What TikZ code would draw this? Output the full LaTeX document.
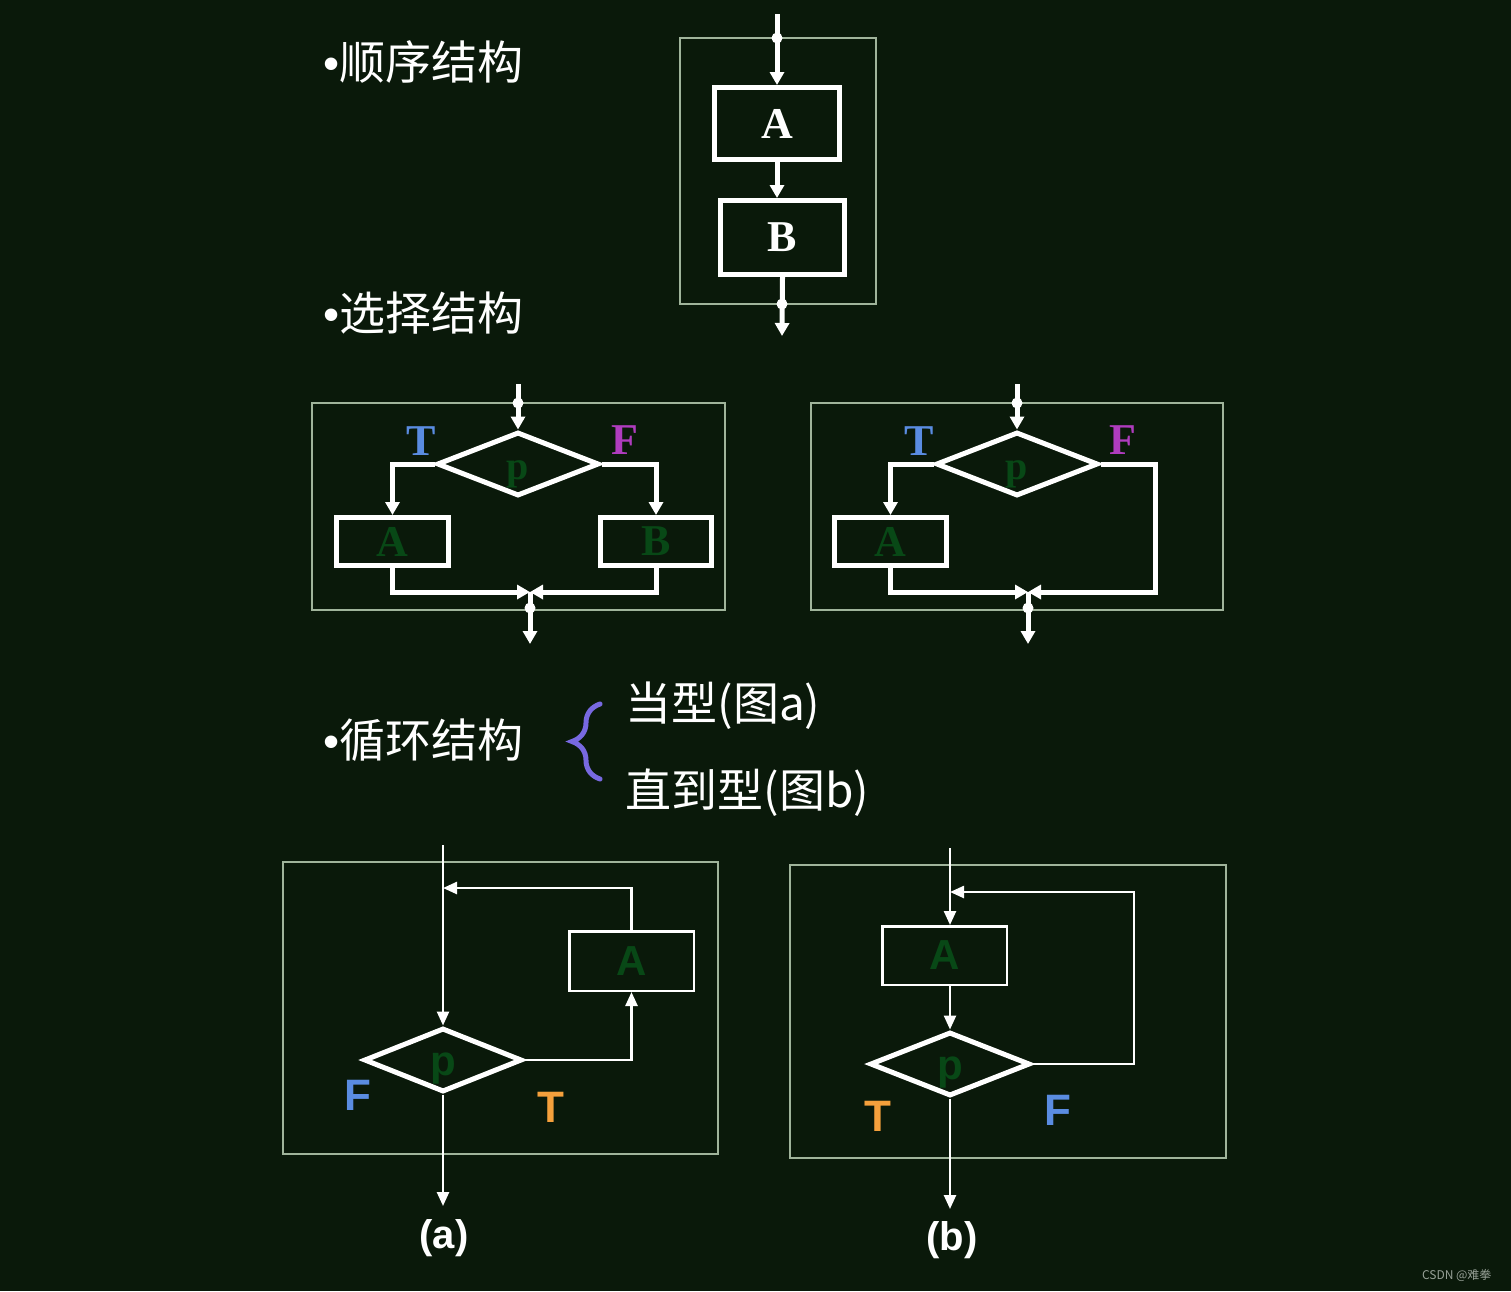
\documentclass[tikz,border=0pt]{standalone}
\usepackage{fontspec}
\setmainfont{Liberation Serif}
\setsansfont{Liberation Sans}
\newfontfamily\cjk{Noto Sans CJK SC}
\usetikzlibrary{arrows.meta,shapes.geometric,decorations.pathreplacing}
\definecolor{bg}{RGB}{10,25,10}
\definecolor{framec}{RGB}{160,180,155}
\definecolor{lbl}{RGB}{8,72,22}
\definecolor{tblue}{RGB}{90,140,225}
\definecolor{fpurple}{RGB}{175,60,190}
\definecolor{torange}{RGB}{245,160,60}
\definecolor{bracec}{RGB}{120,105,225}
\definecolor{wmark}{RGB}{150,160,150}
\newcommand{\bul}{{\sffamily •}}
\begin{document}
\begin{tikzpicture}[x=1pt,y=-1pt,
  frame/.style={draw=framec, line width=1.8pt},
  thickbox/.style={rectangle, draw=white, line width=5pt, inner sep=0pt,
    font=\fontsize{44}{44}\selectfont\bfseries},
  thinbox/.style={rectangle, draw=white, line width=2.5pt, inner sep=0pt, text=lbl,
    font=\sffamily\bfseries\fontsize{42}{42}\selectfont},
  dia/.style={diamond, draw=white, line width=5pt, inner sep=0pt, text=lbl,
    text depth=0pt, text height=30pt},
  flow/.style={draw=white, line width=5pt, -{Triangle[length=13pt,width=14pt]}},
  thinflow/.style={draw=white, line width=2.5pt, -{Triangle[length=14pt,width=12pt]}},
  dot/.style={circle, fill=white, minimum size=11pt, inner sep=0pt},
  serlab/.style={font=\fontsize{44}{44}\selectfont\bfseries},
  sanslab/.style={font=\sffamily\bfseries\fontsize{44}{44}\selectfont},
  heading/.style={anchor=west, text=white, font=\cjk\fontsize{46}{46}\selectfont}
]
\fill[bg] (0,0) rectangle (1511,1291);
\useasboundingbox (0,0) rectangle (1511,1291);

% ---------- headings ----------
\node[heading] (h1) at (320,62) {\bul 顺序结构};
\node[heading] (h2) at (320,313) {\bul 选择结构};
\node[heading] (h3) at (320,740) {\bul 循环结构};
\node[heading] (h4) at (622,706) {当型(图a)};
\node[heading] (h5) at (622,793) {直到型(图b)};
\draw[bracec, line width=5pt, line cap=round, decorate,
  decoration={brace, amplitude=28pt}] (600,779) -- (600,704);

% ---------- sequence ----------
\draw[frame] (680,38) rectangle (876,304);
\node[thickbox, text=white, minimum width=125pt, minimum height=72pt] (sA) at (777,123.5) {A};
\node[thickbox, text=white, minimum width=124pt, minimum height=74pt] (sB) at (782.5,237.5) {B};
\coordinate (sIn) at (777,14);
\coordinate (sOut) at (782,336);
\draw[flow] (sIn) -- (sA.north);
\draw[flow] (sA.south) -- (sA.south |- sB.north);
\draw[flow] (sB.south) -- (sOut);
\node[dot] (sd1) at (777,38) {};
\node[dot] (sd2) at (782,304) {};

% ---------- selection (left) ----------
\draw[frame] (312,403) rectangle (725,610);
\node[dia, minimum width=162pt, minimum height=64pt, font=\fontsize{40}{40}\selectfont\bfseries] (d1) at (518,464) {p};
\node[thickbox, text=lbl, minimum width=112pt, minimum height=48pt] (a1) at (392.5,541.5) {A};
\node[thickbox, text=lbl, minimum width=111pt, minimum height=48pt] (b1) at (656,541.5) {B};
\coordinate (in1) at (518,384);
\coordinate (j1) at (530,592);
\coordinate (out1) at (530,644);
\draw[flow] (in1) -- (d1.north);
\draw[flow] (d1.west) -| (a1.north);
\draw[flow] (d1.east) -| (b1.north);
\draw[flow] (a1.south) |- (j1);
\draw[flow] (b1.south) |- (j1);
\draw[flow] (j1) -- (out1);
\node[dot] (dd1) at (518,403) {};
\node[dot] (dd2) at (530,608) {};
\node[serlab, text=tblue] (t1) at (421,441) {T};
\node[serlab, text=fpurple] (f1) at (625,440) {F};

% ---------- selection (right) ----------
\draw[frame] (811,403) rectangle (1223,610);
\node[dia, minimum width=162pt, minimum height=64pt, font=\fontsize{40}{40}\selectfont\bfseries] (d2) at (1017,464) {p};
\node[thickbox, text=lbl, minimum width=112pt, minimum height=48pt] (a2) at (890.5,541.5) {A};
\coordinate (in2) at (1017,384);
\coordinate (j2) at (1028,592);
\coordinate (c2) at (1155,464);
\coordinate (out2) at (1028,644);
\draw[flow] (in2) -- (d2.north);
\draw[flow] (d2.west) -| (a2.north);
\draw[flow] (d2.east) -- (c2) |- (j2);
\draw[flow] (a2.south) |- (j2);
\draw[flow] (j2) -- (out2);
\node[dot] (dd3) at (1017,403) {};
\node[dot] (dd4) at (1028,608) {};
\node[serlab, text=tblue] (t2) at (919,441) {T};
\node[serlab, text=fpurple] (f2) at (1123,440) {F};

% ---------- loop (a) ----------
\draw[frame] (283,862) rectangle (718,1154);
\node[dia, minimum width=158pt, minimum height=64pt, font=\sffamily\bfseries\fontsize{42}{42}\selectfont] (d3) at (443,1060) {p};
\node[thinbox, minimum width=124.5pt, minimum height=59.5pt] (a3) at (631.5,961) {A};
\coordinate (in3) at (443,845);
\coordinate (ret3) at (443,888);
\coordinate (out3) at (443,1206);
\draw[thinflow] (in3) -- (d3.north);
\draw[thinflow] (a3.north) |- (ret3);
\draw[thinflow] (d3.east) -| (a3.south);
\draw[thinflow] (d3.south) -- (out3);
\node[sanslab, text=tblue] (f3) at (358,1095) {F};
\node[sanslab, text=torange] (t3) at (551,1107) {T};
\node[text=white, font=\sffamily\bfseries\fontsize{40}{40}\selectfont] (la) at (444,1238) {(a)};

% ---------- loop (b) ----------
\draw[frame] (790,865) rectangle (1226,1158);
\node[thinbox, minimum width=124.5pt, minimum height=58.5pt] (a4) at (944.5,955.5) {A};
\node[dia, minimum width=160pt, minimum height=64pt, font=\sffamily\bfseries\fontsize{42}{42}\selectfont] (d4) at (950,1064) {p};
\coordinate (in4) at (950,848);
\coordinate (c4) at (1134,1064);
\coordinate (ret4) at (950,892);
\coordinate (out4) at (950,1209);
\draw[thinflow] (in4) -- (in4 |- a4.north);
\draw[thinflow] (a4.south -| d4.north) -- (d4.north);
\draw[thinflow] (d4.east) -- (c4) |- (ret4);
\draw[thinflow] (d4.south) -- (out4);
\node[sanslab, text=torange] (t4) at (878,1116) {T};
\node[sanslab, text=tblue] (f4) at (1058,1110) {F};
\node[text=white, font=\sffamily\bfseries\fontsize{40}{40}\selectfont] (lb) at (952,1240) {(b)};

% ---------- watermark ----------
\node[anchor=east, text=wmark, font=\cjk\fontsize{12}{12}\selectfont] (wm) at (1495,1275) {CSDN @难拳};
\end{tikzpicture}
\end{document}
